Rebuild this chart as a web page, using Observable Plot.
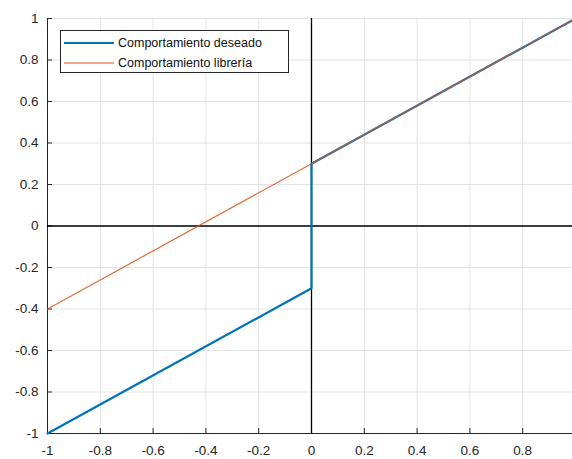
<!DOCTYPE html>
<html><head><meta charset="utf-8">
<script src="https://cdn.jsdelivr.net/npm/d3@7"></script>
<script src="https://cdn.jsdelivr.net/npm/@observablehq/plot@0.6"></script>
<style>
body{margin:0;background:#fff;font-family:"Liberation Sans",Arial,sans-serif;}
#wrap{position:relative;width:572px;height:459px;overflow:hidden;}
#legend{position:absolute;left:60px;top:30px;width:229px;height:43px;border:1px solid #262626;background:#fff;box-sizing:border-box;font-size:12.5px;color:#111;}
</style>
</head><body>
<div id="wrap"></div>
<script>
const xTicks = [-1, -0.8, -0.6, -0.4, -0.2, 0, 0.2, 0.4, 0.6, 0.8];
const xTickLabels = ["-1", "-0.8", "-0.6", "-0.4", "-0.2", "0", "0.2", "0.4", "0.6", "0.8"];
const yTicks = [-1, -0.8, -0.6, -0.4, -0.2, 0, 0.2, 0.4, 0.6, 0.8, 1];
const yTickLabels = ["-1", "-0.8", "-0.6", "-0.4", "-0.2", "0", "0.2", "0.4", "0.6", "0.8", "1"];
const deseadoX = [-1, 0, 0, 1];
const deseadoY = [-1, -0.3, 0.3, 1];
const libreriaX = [-1, 1];
const libreriaY = [-0.4, 1];
const seriesNames = ["Comportamiento deseado", "Comportamiento librería"];
const seriesColors = ["#0072BD", "#D95319"];

const deseado = deseadoX.map((x, i) => ({x, y: deseadoY[i]}));
const libreria = libreriaX.map((x, i) => ({x, y: libreriaY[i]}));
const xLab = new Map(xTicks.map((t, i) => [t, xTickLabels[i]]));
const yLab = new Map(yTicks.map((t, i) => [t, yTickLabels[i]]));

const plot = Plot.plot({
  width: 572,
  height: 459,
  marginLeft: 47,
  marginTop: 18,
  marginBottom: 26,
  marginRight: 0,
  style: {fontFamily: "Liberation Sans, Arial, sans-serif", fontSize: "13px", color: "#262626", background: "#fff"},
  x: {domain: [-1, 1], range: [47, 575], label: null},
  y: {domain: [-1, 1], label: null},
  marks: [
    Plot.gridX(xTicks, {stroke: "#e3e3e3", strokeOpacity: 1}),
    Plot.gridY(yTicks, {stroke: "#e3e3e3", strokeOpacity: 1}),
    Plot.ruleX([-1], {stroke: "#262626", strokeWidth: 1}),
    Plot.ruleY([-1], {stroke: "#262626", strokeWidth: 1}),
    Plot.ruleX(xTicks, {x: d => d, y1: -1, y2: -0.976, stroke: "#262626"}),
    Plot.ruleY(yTicks, {y: d => d, x1: -1, x2: -0.981, stroke: "#262626"}),
    Plot.axisX(xTicks, {tickSize: 0, tickPadding: 12, tickFormat: d => xLab.get(d), fill: "#262626", fontSize: 13.5, label: null}),
    Plot.axisY(yTicks, {tickSize: 0, tickPadding: 9, tickFormat: d => yLab.get(d), fill: "#262626", fontSize: 13.5, label: null}),
    Plot.ruleX([0], {stroke: "#000", strokeWidth: 1.3}),
    Plot.ruleY([0], {stroke: "#000", strokeWidth: 1.3}),
    Plot.line(deseado, {x: "x", y: "y", stroke: seriesColors[0], strokeWidth: 2.2}),
    Plot.line(libreria, {x: "x", y: "y", stroke: seriesColors[1], strokeWidth: 1.2, strokeOpacity: 0.85})
  ]
});
const wrap = document.getElementById("wrap");
wrap.appendChild(plot);

const leg = document.createElement("div");
leg.id = "legend";
const sw = [2.2, 1.2];
leg.innerHTML = seriesNames.map((n, i) =>
  `<div style="position:absolute;left:2px;top:${4 + i * 20}px;height:16px;display:flex;align-items:center;white-space:nowrap">
     <svg width="52" height="16"><line x1="1" x2="51" y1="8" y2="8" stroke="${seriesColors[i]}" stroke-width="${sw[i]}"/></svg>
     <span style="margin-left:3px">${n}</span></div>`).join("");
wrap.appendChild(leg);
</script>
</body></html>
